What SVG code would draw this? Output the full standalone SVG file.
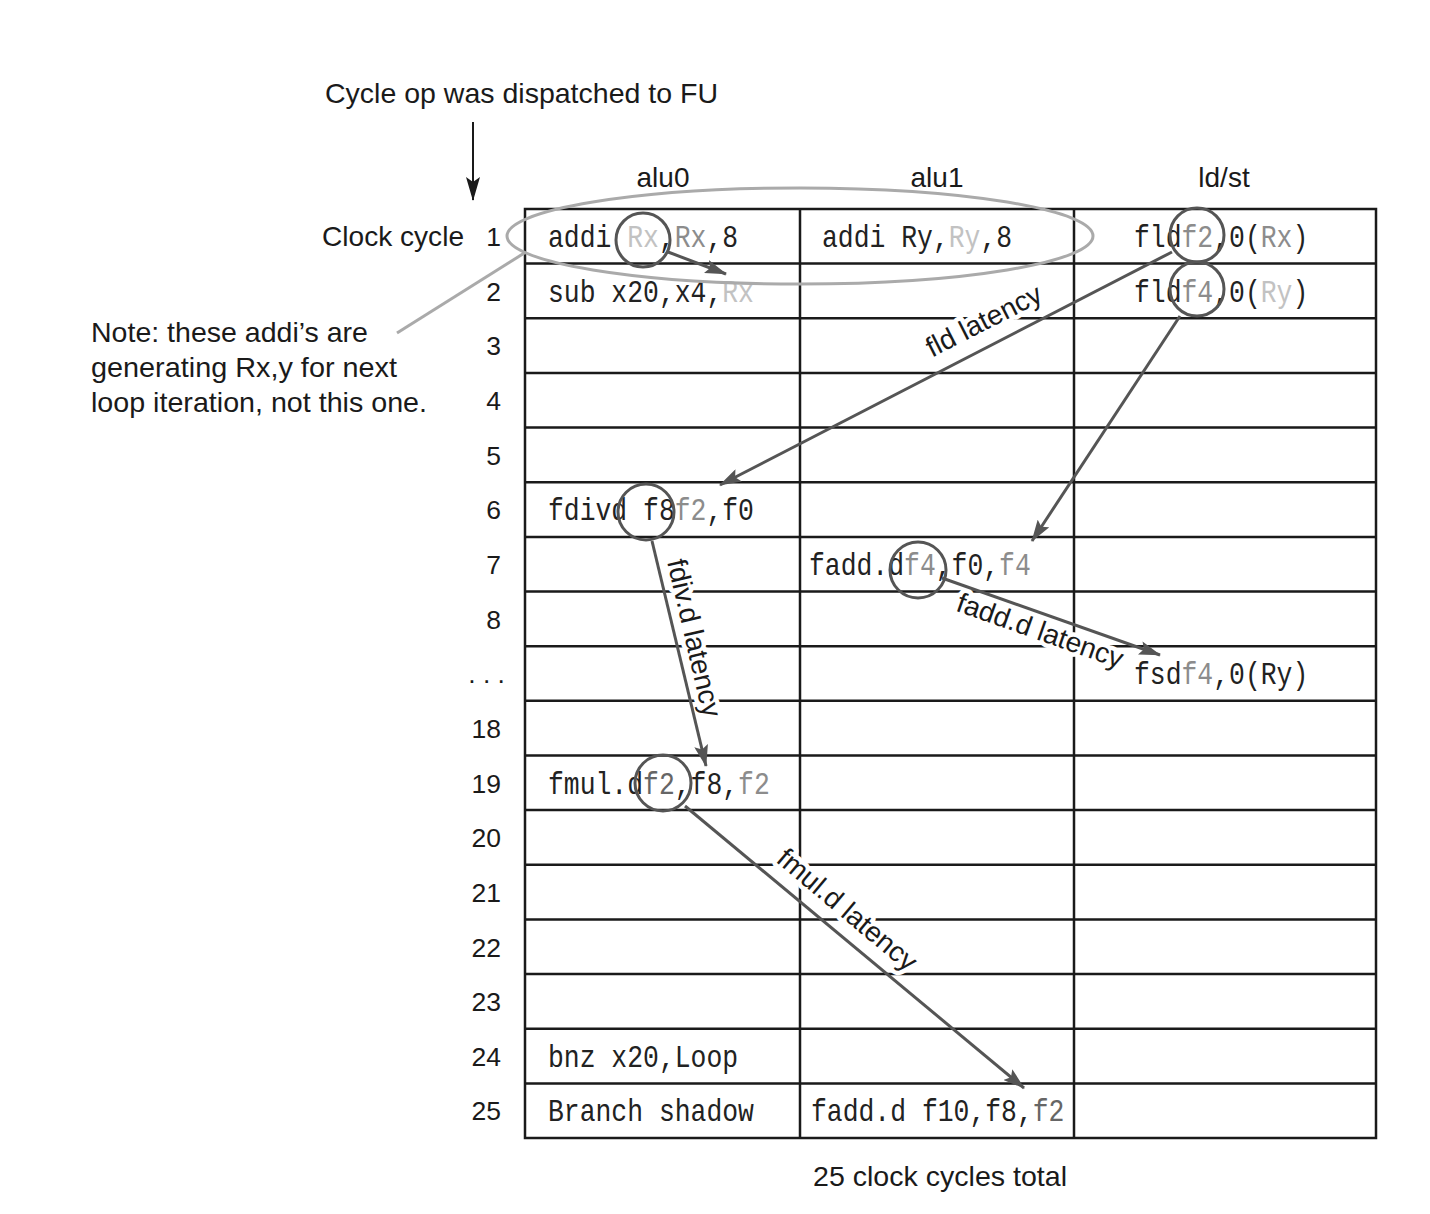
<svg xmlns="http://www.w3.org/2000/svg" width="1430" height="1214" viewBox="0 0 1430 1214">
<style>
.s{font-family:"Liberation Sans",Arial,sans-serif;font-size:28px;fill:#1a1a1a}
.n{font-family:"Liberation Sans",Arial,sans-serif;font-size:26.5px;fill:#1a1a1a;text-anchor:end}
.c{font-family:"Liberation Mono","Courier New",monospace;font-size:32px;fill:#222}
.lg{fill:#c2c2c2}.mg{fill:#8c8c8c}.dg{fill:#666}
.grid{stroke:#1a1a1a;stroke-width:2.5;fill:none}
.ring{fill:none;stroke:#555;stroke-width:3}
.arr{stroke:#555;stroke-width:3;fill:none;marker-end:url(#ah)}
.lab{font-family:"Liberation Sans",Arial,sans-serif;font-size:28px;fill:#1a1a1a;text-anchor:middle;stroke:#fff;stroke-width:9;stroke-linejoin:round;paint-order:stroke}
</style>
<defs>
<marker id="ah" viewBox="0 0 22 14" refX="21" refY="7" markerWidth="22" markerHeight="14" orient="auto" markerUnits="userSpaceOnUse"><path d="M0,0 L22,7 L0,14 L4,7 z" fill="#555"/></marker>
<marker id="bh" viewBox="0 0 14 24" refX="7" refY="23" markerWidth="14" markerHeight="24" orient="0" markerUnits="userSpaceOnUse"><path d="M0,0 L7,24 L14,0 L7,5 z" fill="#1a1a1a"/></marker>
</defs>
<rect width="1430" height="1214" fill="#fff"/>

<g id="title">
<text class="s" x="325" y="103" textLength="393" lengthAdjust="spacingAndGlyphs">Cycle op was dispatched to FU</text>
<line x1="473" y1="122" x2="473" y2="200" stroke="#1a1a1a" stroke-width="2" marker-end="url(#bh)"/>
</g>

<g id="headers">
<text class="s" x="663" y="187" text-anchor="middle">alu0</text>
<text class="s" x="937" y="187" text-anchor="middle">alu1</text>
<text class="s" x="1224" y="187" text-anchor="middle">ld/st</text>
</g>

<g id="table">
<rect class="grid" x="525" y="209" width="851" height="929"/>
<line class="grid" x1="800" y1="209" x2="800" y2="1138"/>
<line class="grid" x1="1074" y1="209" x2="1074" y2="1138"/>
<path class="grid" d="M525,263.6H1376M525,318.3H1376M525,372.9H1376M525,427.6H1376M525,482.2H1376M525,536.9H1376M525,591.5H1376M525,646.2H1376M525,700.8H1376M525,755.5H1376M525,810.1H1376M525,864.8H1376M525,919.4H1376M525,974.1H1376M525,1028.7H1376M525,1083.4H1376"/>
</g>

<g id="cycle-labels">
<text class="s" x="464" y="246" text-anchor="end" textLength="142" lengthAdjust="spacingAndGlyphs">Clock cycle</text>
<text class="n" x="501" y="246">1</text>
<text class="n" x="501" y="300.5">2</text>
<text class="n" x="501" y="355">3</text>
<text class="n" x="501" y="410">4</text>
<text class="n" x="501" y="464.5">5</text>
<text class="n" x="501" y="519">6</text>
<text class="n" x="501" y="574">7</text>
<text class="n" x="501" y="628.5">8</text>
<text class="n" x="505" y="683">. . .</text>
<text class="n" x="501" y="738">18</text>
<text class="n" x="501" y="792.5">19</text>
<text class="n" x="501" y="847">20</text>
<text class="n" x="501" y="901.5">21</text>
<text class="n" x="501" y="956.5">22</text>
<text class="n" x="501" y="1011">23</text>
<text class="n" x="501" y="1065.5">24</text>
<text class="n" x="501" y="1120">25</text>
</g>

<g id="note">
<text class="s" x="91" y="342" textLength="277" lengthAdjust="spacingAndGlyphs">Note: these addi’s are</text>
<text class="s" x="91" y="377" textLength="306" lengthAdjust="spacingAndGlyphs">generating Rx,y for next</text>
<text class="s" x="91" y="412" textLength="336" lengthAdjust="spacingAndGlyphs">loop iteration, not this one.</text>
<line x1="397" y1="333" x2="525" y2="252.6" stroke="#aaa" stroke-width="3"/>
</g>

<g id="cells">
<text class="c" transform="translate(548,247) scale(0.825,1)">addi <tspan class="lg">Rx</tspan>,<tspan class="mg">Rx</tspan>,8</text>
<text class="c" transform="translate(822,247) scale(0.825,1)">addi Ry,<tspan class="lg">Ry</tspan>,8</text>
<text class="c" transform="translate(1134,247) scale(0.825,1)">fld<tspan class="mg">f2</tspan>,0(<tspan class="mg">Rx</tspan>)</text>
<text class="c" transform="translate(548,301.5) scale(0.825,1)">sub x20,x4,<tspan class="lg">Rx</tspan></text>
<text class="c" transform="translate(1134,301.5) scale(0.825,1)">fld<tspan class="mg">f4</tspan>,0(<tspan class="lg">Ry</tspan>)</text>
<text class="c" transform="translate(548,520) scale(0.825,1)">fdivd f8<tspan class="mg">f2</tspan>,f0</text>
<text class="c" transform="translate(809,575) scale(0.825,1)">fadd.d<tspan class="mg">f4</tspan>,f0,<tspan class="mg">f4</tspan></text>
<text class="c" transform="translate(1134,684) scale(0.825,1)">fsd<tspan class="mg">f4</tspan>,0(Ry)</text>
<text class="c" transform="translate(548,793.5) scale(0.825,1)">fmul.d<tspan class="dg">f2</tspan>,f8,<tspan class="mg">f2</tspan></text>
<text class="c" transform="translate(548,1066.5) scale(0.825,1)">bnz x20,Loop</text>
<text class="c" transform="translate(548,1121) scale(0.825,1)">Branch shadow</text>
<text class="c" transform="translate(811,1121) scale(0.825,1)">fadd.d f10,f8,<tspan class="dg">f2</tspan></text>
</g>

<g id="highlights">
<ellipse cx="800" cy="236" rx="293" ry="48" fill="none" stroke="#aaa" stroke-width="3"/>
<circle class="ring" cx="643" cy="240" r="27"/>
<circle class="ring" cx="1197" cy="235" r="27"/>
<circle class="ring" cx="1197" cy="289" r="27"/>
<circle class="ring" cx="646" cy="512" r="28"/>
<circle class="ring" cx="918" cy="570" r="28"/>
<circle class="ring" cx="663" cy="783" r="28"/>
</g>

<g id="latency-labels">
<text class="lab" transform="translate(984,321) rotate(-27)" y="9">fld latency</text>
<text class="lab" transform="translate(694,638) rotate(77)" y="9">fdiv.d latency</text>
<text class="lab" transform="translate(1040,631) rotate(19.5)" y="9">fadd.d latency</text>
<text class="lab" transform="translate(847,910) rotate(40)" y="9">fmul.d latency</text>
</g>

<g id="connectors">
<line class="arr" x1="668" y1="252" x2="726" y2="274"/>
<line class="arr" x1="1172" y1="252" x2="720" y2="485"/>
<line class="arr" x1="1180" y1="316" x2="1032" y2="541"/>
<line class="arr" x1="652" y1="541" x2="706" y2="766"/>
<line class="arr" x1="942" y1="578" x2="1160" y2="655"/>
<line class="arr" x1="685" y1="806" x2="1024" y2="1088"/>
</g>

<g id="footer">
<text class="s" x="940" y="1186" text-anchor="middle" textLength="254" lengthAdjust="spacingAndGlyphs">25 clock cycles total</text>
</g>
</svg>
